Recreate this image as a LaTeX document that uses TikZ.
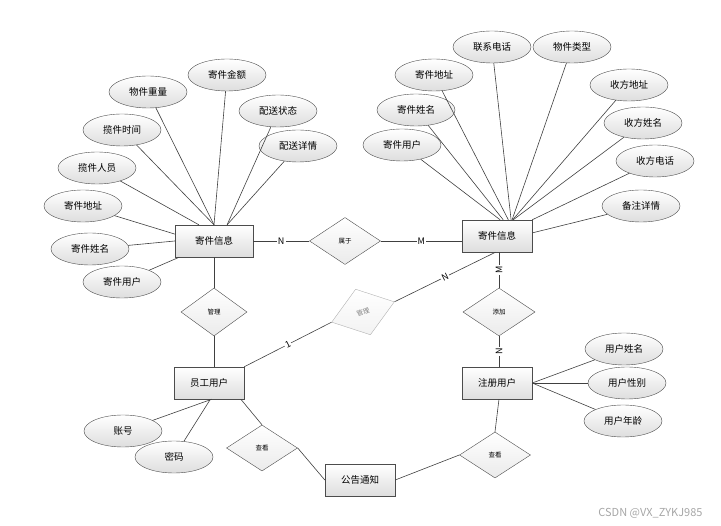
\documentclass[tikz,border=0pt]{standalone}
\usepackage{fontspec}
\setmainfont{Noto Sans CJK SC}
\usetikzlibrary{shapes.geometric}

\begin{document}
\begin{tikzpicture}
[x=1pt, y=-1pt,
    every node/.style={font=\fontsize{9.5}{11}\selectfont},
    entity/.style={draw=black!70, rectangle, minimum width=70, minimum height=32,
        top color=white, bottom color=black!13},
    attr/.style={draw=black!70, ellipse, minimum width=78, minimum height=32, inner sep=0,
        top color=white, bottom color=black!13},
    rel/.style={draw=black!70, diamond, minimum width=71, minimum height=47, inner sep=0,
        top color=white, bottom color=black!8, font=\fontsize{6.5}{7}\selectfont},
    card/.style={fill=white, inner sep=1pt, font=\fontsize{9}{10}\selectfont},
    link/.style={draw=black!75, line width=0.6pt}]
    \useasboundingbox (0,0) rectangle (721,526);

    % entities
    \node[entity, minimum width=78] (infoA) at (214,241) {寄件信息};
    \node[entity] (infoB) at (497,236) {寄件信息};
    \node[entity] (staff) at (209,383) {员工用户};
    \node[entity] (user) at (497,383) {注册用户};
    \node[entity] (notice) at (360,480) {公告通知};

    % relations
    \node[rel] (belong) at (345,241) {属于};
    \node[rel, minimum width=66, minimum height=48] (manage) at (214,312) {管理};
    \node[rel, minimum width=66, minimum height=48, rotate=18, draw=black!30,
        text=black!50, bottom color=black!5] (manageB) at (363,312) {管理};
    \node[rel, minimum width=72, minimum height=48] (addrel) at (499,312) {添加};
    \node[rel, minimum height=46] (viewA) at (262,448) {查看};
    \node[rel, minimum height=46] (viewB) at (495,455) {查看};

    % attributes of the left info
    \node[attr] (weight) at (148,92) {物件重量};
    \node[attr] (amount) at (227,75) {寄件金额};
    \node[attr] (status) at (278,111) {配送状态};
    \node[attr] (pickTime) at (122,130) {揽件时间};
    \node[attr] (detail) at (298,146) {配送详情};
    \node[attr] (picker) at (97,168) {揽件人员};
    \node[attr] (addrA) at (83,206) {寄件地址};
    \node[attr] (nameA) at (90,249) {寄件姓名};
    \node[attr] (senderA) at (122,282) {寄件用户};

    % attributes of the right info
    \node[attr] (phone) at (492,47) {联系电话};
    \node[attr] (kind) at (572,47) {物件类型};
    \node[attr] (addrB) at (434,75) {寄件地址};
    \node[attr] (toAddr) at (629,85) {收方地址};
    \node[attr] (nameB) at (416,110) {寄件姓名};
    \node[attr] (toName) at (643,123) {收方姓名};
    \node[attr] (senderB) at (402,145) {寄件用户};
    \node[attr] (toPhone) at (655,161) {收方电话};
    \node[attr] (remark) at (641,206) {备注详情};

    % attributes of the users
    \node[attr] (uname) at (624,349) {用户姓名};
    \node[attr] (usex) at (627,383) {用户性别};
    \node[attr] (uage) at (623,421) {用户年龄};
    \node[attr] (account) at (123,431) {账号};
    \node[attr] (passwd) at (174,457) {密码};

    \draw[link] (weight) -- (infoA.north);
    \draw[link] (amount) -- (infoA.north);
    \draw[link] (pickTime) -- (infoA.north);
    \draw[link] (status) -- (infoA.51);
    \draw[link] (detail) -- (infoA.51);
    \draw[link] (picker) -- (infoA.133);
    \draw[link] (addrA) -- (infoA.170);
    \draw[link] (nameA) -- (infoA.west);
    \draw[link] (senderA) -- (infoA.205);

    \draw[link] (senderB) -- (infoB.79);
    \draw[link] (nameB) -- (infoB.69);
    \draw[link] (addrB) -- (infoB.55);
    \draw[link] (phone) -- (infoB.49);
    \draw[link] (kind) -- (infoB.47);
    \draw[link] (toAddr) -- (infoB.46);
    \draw[link] (toName) -- (infoB.45);
    \draw[link] (toPhone) -- (infoB.north east);
    \draw[link] (remark) -- (infoB.5);

    \draw[link] (user.east) -- (uname);
    \draw[link] (user.east) -- (usex);
    \draw[link] (user.east) -- (uage);
    \draw[link] (account) -- (staff.280);
    \draw[link] (passwd) -- (staff.275);

    \draw[link] (infoA.east) -- node[card] {N} (belong.west);
    \draw[link] (belong.east) -- node[card] {M} (belong.east -| infoB.west);
    \draw[link] (infoA.south) -- (manage.north);
    \draw[link] (manage.south) -- (manage.south |- staff.north);
    \draw[link] (staff.north east) -- node[card, sloped] {1} (manageB.west);
    \draw[link] (manageB.east) -- node[card, sloped] {N} (infoB.265);
    \draw[link] (addrel.north |- infoB.south) -- node[card, rotate=90] {M} (addrel.north);
    \draw[link] (addrel.south) -- node[card, rotate=90] {N} (addrel.south |- user.north);
    \draw[link] (staff.333) -- (viewA.north);
    \draw[link] (viewA.east) -- (notice.west);
    \draw[link] (notice.east) -- (viewB.west);
    \draw[link] (viewB.north) -- (user.277);

    \node[anchor=east, text=black!35, font=\fontsize{11}{12}\selectfont] (mark) at (706,513) {CSDN @VX\_ZYKJ985};
\end{tikzpicture}
\end{document}
